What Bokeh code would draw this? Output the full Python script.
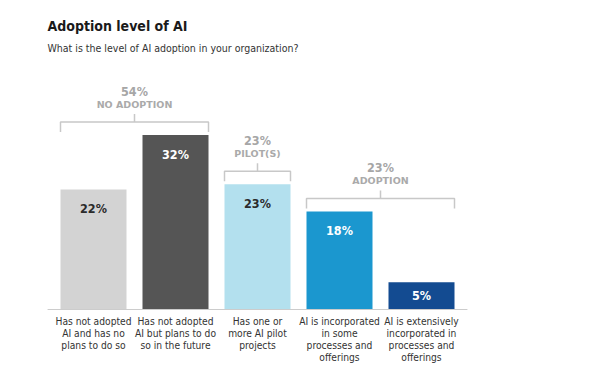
from bokeh.plotting import figure
from bokeh.models import Range1d, Label
from bokeh.core.properties import value
from bokeh.embed import file_html
from bokeh.resources import INLINE

# ---- data ----
title_text = "Adoption level of AI"
subtitle_text = "What is the level of AI adoption in your organization?"
categories = [
    "Has not adopted\nAI and has no\nplans to do so",
    "Has not adopted\nAI but plans to do\nso in the future",
    "Has one or\nmore AI pilot\nprojects",
    "AI is incorporated\nin some\nprocesses and\nofferings",
    "AI is extensively\nincorporated in\nprocesses and\nofferings",
]
values = [22, 32, 23, 18, 5]
group_names = ["NO ADOPTION", "PILOT(S)", "ADOPTION"]
group_members = [[0, 1], [2], [3, 4]]
group_totals = [54, 23, 23]

# ---- style ----
bar_colors = ["#d3d3d3", "#555555", "#b3e0ee", "#1b97cf", "#134b91"]
value_label_colors = ["#2b2b2b", "#ffffff", "#2b2b2b", "#ffffff", "#ffffff"]
narrow = "'DejaVu Sans Condensed', 'Liberation Sans Narrow', 'Roboto Condensed', Roboto"

W, H = 584, 369
PX = 5.45        # pixels per percentage point
XS = 82          # pixels per category slot
x0_px = 93       # pixel position of first category center
base_px = 309    # pixel position of baseline from top
bar_w = 66 / XS

p = figure(width=W, height=H,
           x_range=Range1d(-x0_px / XS, (W - x0_px) / XS),
           y_range=Range1d(-(H - base_px) / PX, base_px / PX),
           output_backend="svg", toolbar_location=None,
           x_axis_location=None, y_axis_location=None, min_border=0)
p.grid.visible = False
p.outline_line_color = None
p.background_fill_color = "white"

idx = list(range(len(values)))

# bars
p.vbar(x=idx, top=values, bottom=0, width=bar_w, color=bar_colors, line_color=None)

# baseline
p.segment(x0=[idx[0] - 0.56], y0=[0], x1=[idx[-1] + 0.56], y1=[0],
          line_color="#cccccc", line_width=1)

# value labels inside bars
offsets = [min(19, v * PX / 2) for v in values]
p.text(x=idx, y=values, text=[f"{v}%" for v in values], y_offset=offsets,
       text_align="center", text_baseline="middle",
       text_font=value(narrow), text_font_style="bold", text_font_size="12.5px",
       text_color=value_label_colors)

# category labels
p.text(x=idx, y=[0] * len(idx), text=categories, y_offset=6,
       text_align="center", text_baseline="top", text_line_height=1.1,
       text_font=value(narrow), text_font_size="10.2px", text_color="#333333")

# group brackets
for name, members, total in zip(group_names, group_members, group_totals):
    xl = min(members) - bar_w / 2
    xr = max(members) + bar_w / 2
    xc = (xl + xr) / 2
    yb = max(values[m] for m in members) + 13 / PX
    p.multi_line(xs=[[xl, xl, xr, xr], [xc, xc]],
                 ys=[[yb - 10 / PX, yb, yb, yb - 10 / PX], [yb, yb + 8 / PX]],
                 line_color="#c8c8c8", line_width=1.5)
    p.text(x=[xc], y=[yb + 31 / PX], text=[f"{total}%"],
           text_align="center", text_baseline="middle",
           text_font=value(narrow), text_font_style="bold", text_font_size="12.5px",
           text_color="#a6a6a6")
    p.text(x=[xc], y=[yb + 18 / PX], text=[name],
           text_align="center", text_baseline="middle",
           text_font=value("DejaVu Sans"), text_font_style="bold", text_font_size="9.5px",
           text_color="#aaaaaa")

# title & subtitle
p.add_layout(Label(x=47, y=H - 25, x_units="screen", y_units="screen",
                   text=title_text, text_font=narrow, text_font_style="bold",
                   text_font_size="14px", text_color="#1a1a1a", text_baseline="middle"))
p.add_layout(Label(x=47, y=H - 47, x_units="screen", y_units="screen",
                   text=subtitle_text, text_font=narrow,
                   text_font_size="10.5px", text_color="#333333", text_baseline="middle"))

open("out.html", "w").write(file_html(p, INLINE))
